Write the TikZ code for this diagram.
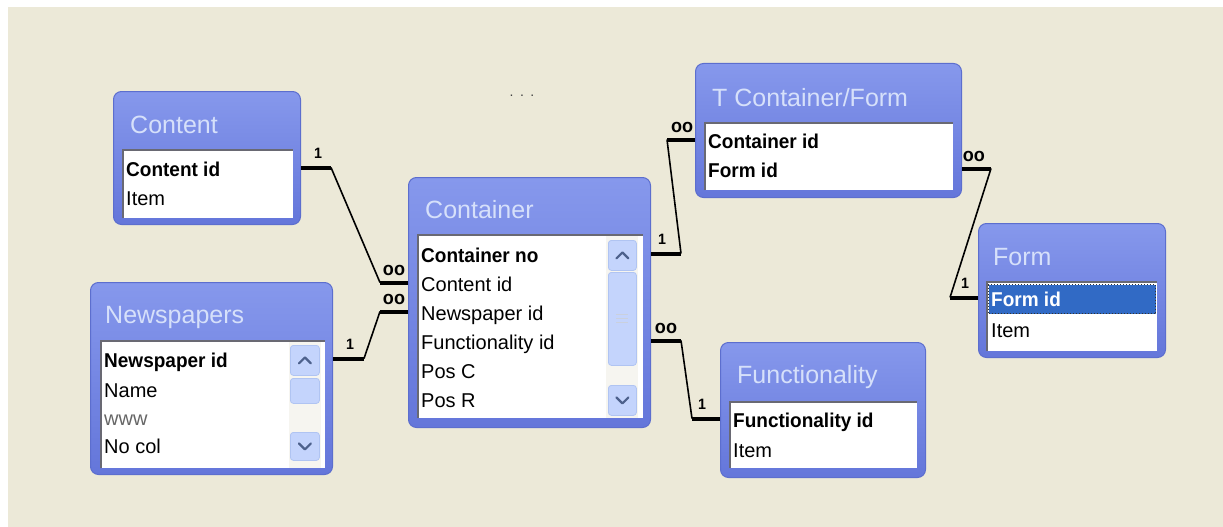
\documentclass[tikz,border=0pt]{standalone}
\usepackage{fontspec}
\setmainfont{Liberation Sans}[BoldFeatures={FakeStretch=0.95}]
\usetikzlibrary{calc}
\definecolor{bg}{RGB}{236,233,216}
\definecolor{frametop}{RGB}{134,152,236}
\definecolor{framebot}{RGB}{100,118,218}
\definecolor{frameedge}{RGB}{92,110,206}
\definecolor{titletext}{RGB}{214,224,250}
\definecolor{sunk}{RGB}{105,105,115}
\definecolor{btnfill}{RGB}{196,212,252}
\definecolor{btnedge}{RGB}{176,196,242}
\definecolor{chevc}{RGB}{77,97,140}
\definecolor{track}{RGB}{246,245,240}
\definecolor{selblue}{RGB}{49,106,197}
\tikzset{
  frame/.style={draw=frameedge, line width=1pt, rounded corners=8pt, top color=frametop, bottom color=framebot, inner sep=0, anchor=north west},
  fieldarea/.style={fill=white, draw=none, inner sep=0, anchor=north west},
  sunken/.style={draw=sunk, line width=1.5pt},
  ttl/.style={anchor=west, text=titletext, font=\fontsize{25}{25}\selectfont, inner sep=0},
  row/.style={anchor=west, font=\fontsize{20}{20}\selectfont, inner sep=0, text height=14pt, text depth=4pt},
  keyrow/.style={row, font=\fontsize{20}{20}\selectfont\bfseries},
  thickc/.style={line width=4pt, black},
  thinc/.style={line width=1.6pt, black},
  one/.style={font=\fontsize{15}{15}\selectfont\bfseries, inner sep=0, above=7pt},
  many/.style={font=\fontsize{19}{19}\selectfont\bfseries, inner sep=0, above=5pt},
  scrollbtn/.style={draw=btnedge, line width=0.8pt, fill=btnfill, rounded corners=3pt, inner sep=0, anchor=north west},
  trackbox/.style={fill=track, draw=none, inner sep=0, anchor=north west},
  chev/.style={draw=chevc, line width=2.2pt, line cap=round, line join=round},
  grip/.style={draw=white!70!chevc, line width=1pt},
  selbox/.style={fill=selblue, draw=black!80, dotted, line width=1pt, inner sep=0, anchor=north west}
}
\begin{document}
\begin{tikzpicture}[x=1pt,y=-1pt]
\useasboundingbox (0,0) rectangle (1223,527);
\fill[white] (0,0) rectangle (1223,527);
\fill[bg] (8,7) rectangle (1223,527);

% dots
\node[font=\fontsize{14}{14}\selectfont, text=black!75, inner sep=0] (dots) at (522,96) {.\hspace{6.5pt}.\hspace{6.5pt}.};

% ---------- Content ----------
\node[frame, minimum width=187, minimum height=133] (content) at (113,91) {};
\node[fieldarea, minimum width=170, minimum height=68] (contentf) at (123,150) {};
\draw[sunken] (contentf.south west) -- (contentf.north west) -- (contentf.north east);
\node[ttl] (contentt) at (130,125) {Content};
\node[keyrow] (content-r1) at (126,171) {Content id};
\node[row] (content-r2) at (126,200) {Item};

% ---------- Newspapers ----------
\node[frame, minimum width=242, minimum height=192] (news) at (90,282) {};
\node[fieldarea, minimum width=224, minimum height=127] (newsf) at (101,341) {};
\node[trackbox, minimum width=32, minimum height=126] (newstrack) at (289,342) {};
\draw[sunken] (newsf.south west) -- (newsf.north west) -- (newsf.north east);
\node[ttl] (newst) at (105,317) {Newspapers};
\node[keyrow] (news-r1) at (104,362) {Newspaper id};
\node[row] (news-r2) at (104,392) {Name};
\node[row, text=black!60] (news-r3) at (104,420) {www};
\node[row] (news-r4) at (104,448) {No col};
\node[scrollbtn, minimum width=29, minimum height=30] (newsup) at (290,345) {};
\node[scrollbtn, minimum width=29, minimum height=25] (newsthumb) at (290,378) {};
\node[scrollbtn, minimum width=29, minimum height=28] (newsdown) at (290,432) {};
\draw[chev] ($(newsup.center)+(-6,3)$) -- ($(newsup.center)+(0,-3)$) -- ($(newsup.center)+(6,3)$);
\draw[chev] ($(newsdown.center)+(-6,-3)$) -- ($(newsdown.center)+(0,3)$) -- ($(newsdown.center)+(6,-3)$);

% ---------- Container ----------
\node[frame, minimum width=242, minimum height=250] (cont) at (408,177) {};
\node[fieldarea, minimum width=225, minimum height=183] (contf) at (418,235) {};
\node[trackbox, minimum width=32, minimum height=182] (conttrack) at (606,236) {};
\draw[sunken] (contf.south west) -- (contf.north west) -- (contf.north east);
\node[ttl] (contt) at (425,210) {Container};
\node[keyrow] (cont-r1) at (421,257) {Container no};
\node[row] (cont-r2) at (421,286) {Content id};
\node[row] (cont-r3) at (421,315) {Newspaper id};
\node[row] (cont-r4) at (421,344) {Functionality id};
\node[row] (cont-r5) at (421,373) {Pos C};
\node[row] (cont-r6) at (421,402) {Pos R};
\node[scrollbtn, minimum width=28, minimum height=30] (contup) at (608,240) {};
\node[scrollbtn, minimum width=28, minimum height=93] (contthumb) at (608,272) {};
\node[scrollbtn, minimum width=28, minimum height=30] (contdown) at (608,385) {};
\draw[chev] ($(contup.center)+(-6,3)$) -- ($(contup.center)+(0,-3)$) -- ($(contup.center)+(6,3)$);
\draw[chev] ($(contdown.center)+(-6,-3)$) -- ($(contdown.center)+(0,3)$) -- ($(contdown.center)+(6,-3)$);
\foreach \g in {-4,0,4}{
  \draw[grip] ($(contthumb.center)+(-6,\g)$) -- ($(contthumb.center)+(6,\g)$);
}

% ---------- T Container/Form ----------
\node[frame, minimum width=266, minimum height=134] (tcf) at (695,63) {};
\node[fieldarea, minimum width=248, minimum height=67] (tcff) at (705,123) {};
\draw[sunken] (tcff.south west) -- (tcff.north west) -- (tcff.north east);
\node[ttl] (tcft) at (712,98) {T Container/Form};
\node[keyrow] (tcf-r1) at (708,143) {Container id};
\node[keyrow] (tcf-r2) at (708,172) {Form id};

% ---------- Form ----------
\node[frame, minimum width=187, minimum height=134] (form) at (978,223) {};
\node[fieldarea, minimum width=170, minimum height=69] (formf) at (987,282) {};
\draw[sunken] (formf.south west) -- (formf.north west) -- (formf.north east);
\node[selbox, minimum width=167, minimum height=29] (formsel) at (988,284) {};
\node[ttl] (formt) at (993,257) {Form};
\node[keyrow, text=white] (form-r1) at (991,301) {Form id};
\node[row] (form-r2) at (991,332) {Item};

% ---------- Functionality ----------
\node[frame, minimum width=205, minimum height=135] (func) at (720,342) {};
\node[fieldarea, minimum width=187, minimum height=66] (funcf) at (730,402) {};
\draw[sunken] (funcf.south west) -- (funcf.north west) -- (funcf.north east);
\node[ttl] (funct) at (737,377) {Functionality};
\node[keyrow] (func-r1) at (733,422) {Functionality id};
\node[row] (func-r2) at (733,452) {Item};

% ---------- Relationships ----------
% Content -> Container
\draw[thickc] ([yshift=3.5pt]content-r1.west -| content.east) -- node[one, pos=0.57]{1} ++(30,0) coordinate (k1);
\draw[thickc] ([yshift=3.5pt]cont-r2.west -| cont.west) -- node[many, pos=0.5]{oo} ++(-28,0) coordinate (k2);
\draw[thinc] (k1) -- (k2);
% Newspapers -> Container
\draw[thickc] ([yshift=3.5pt]news-r1.west -| news.east) -- node[one, pos=0.55]{1} ++(31,0) coordinate (k3);
\draw[thickc] ([yshift=3.5pt]cont-r3.west -| cont.west) -- node[many, pos=0.5]{oo} ++(-28,0) coordinate (k4);
\draw[thinc] (k3) -- (k4);
% Container -> T Container/Form
\draw[thickc] ([yshift=3.5pt]cont-r1.west -| cont.east) -- node[one, pos=0.37]{1} ++(30,0) coordinate (k5);
\draw[thickc] ([yshift=3.5pt]tcf-r1.west -| tcf.west) -- node[many, pos=0.46]{oo} ++(-28,0) coordinate (k6);
\draw[thinc] (k5) -- (k6);
% Container -> Functionality
\draw[thickc] ([yshift=3.5pt]cont-r4.west -| cont.east) -- node[many, pos=0.5]{oo} ++(30,0) coordinate (k7);
\draw[thickc] ([yshift=3.5pt]func-r1.west -| func.west) -- node[one, pos=0.64]{1} ++(-28,0) coordinate (k8);
\draw[thinc] (k7) -- (k8);
% T Container/Form -> Form
\draw[thickc] ([yshift=3.5pt]tcf-r2.west -| tcf.east) -- node[many, pos=0.41]{oo} ++(29,0) coordinate (k9);
\draw[thickc] ([yshift=3.5pt]form-r1.west -| form.west) -- node[one, pos=0.46]{1} ++(-28,0) coordinate (k10);
\draw[thinc] (k9) -- (k10);
\end{tikzpicture}
\end{document}
